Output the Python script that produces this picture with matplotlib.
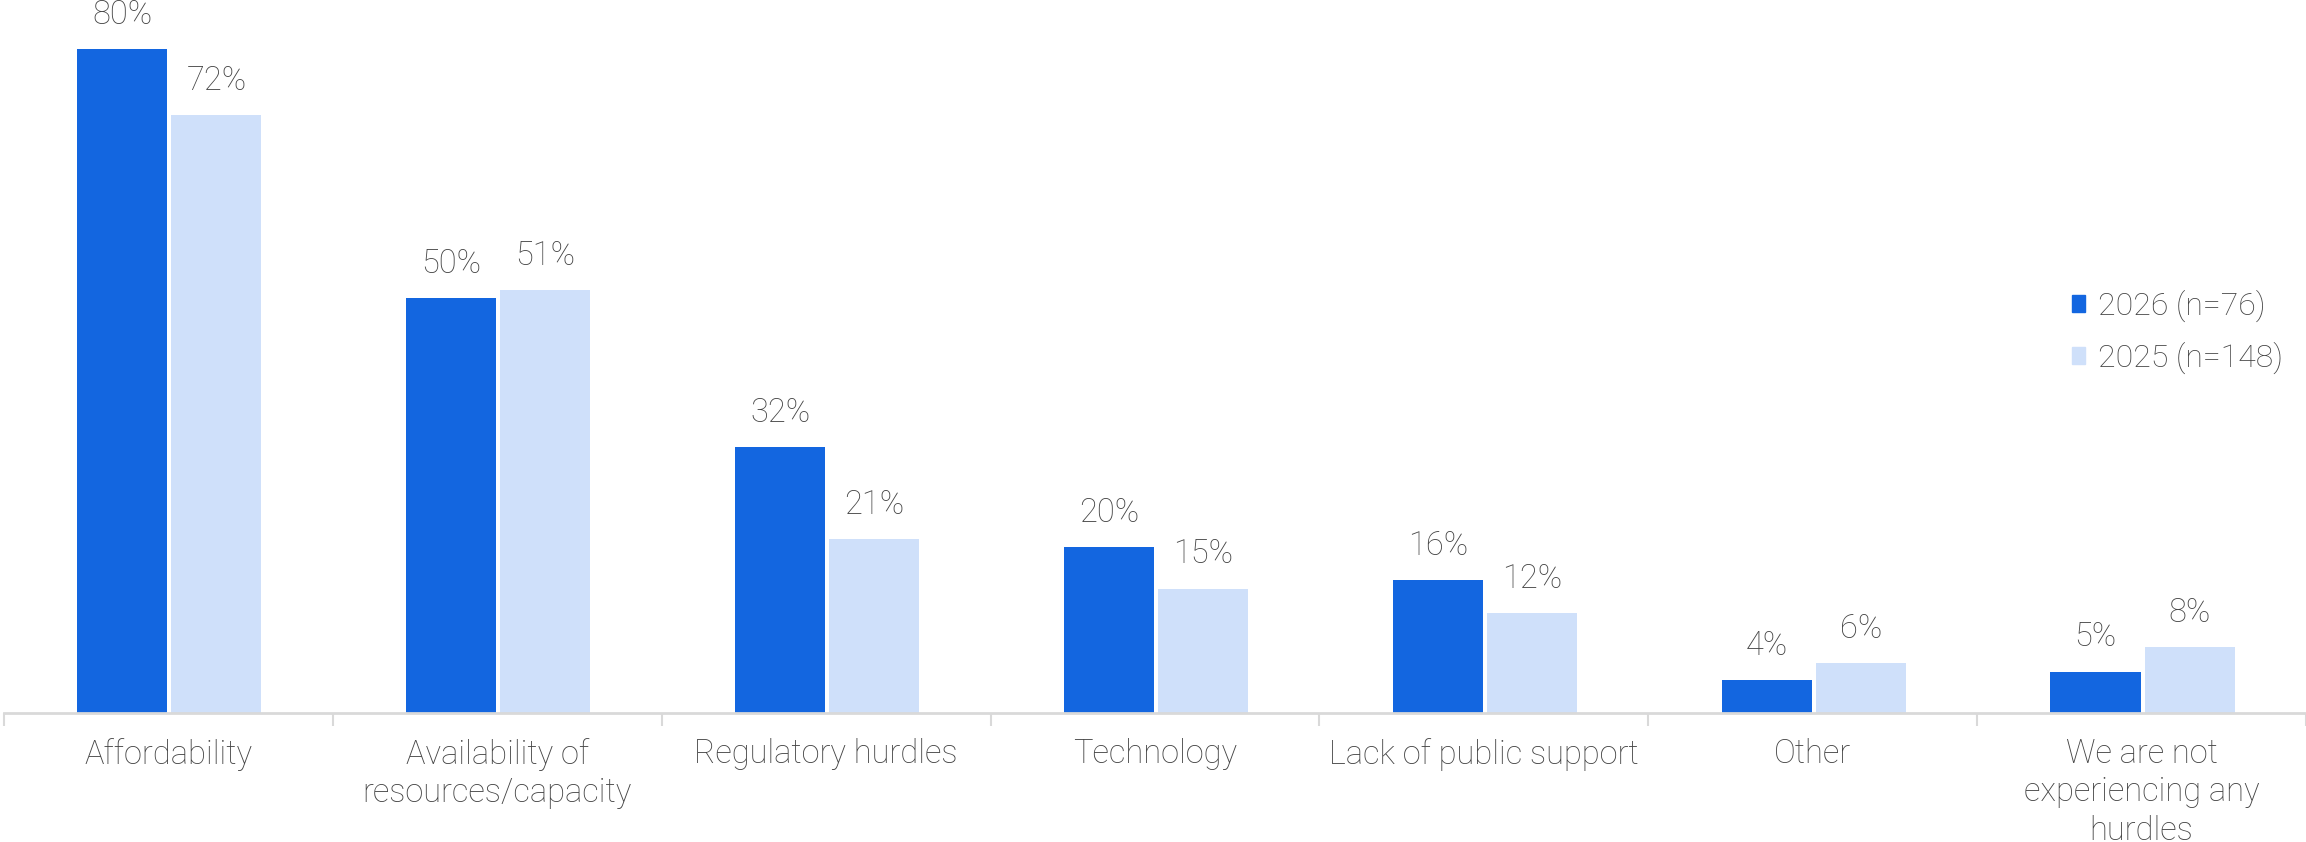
import matplotlib
matplotlib.use("Agg")
import matplotlib.pyplot as plt
import numpy as np
from matplotlib.patches import Patch

# Chart data
categories = [
    "Affordability",
    "Availability of\nresources/capacity",
    "Regulatory hurdles",
    "Technology",
    "Lack of public support",
    "Other",
    "We are not\nexperiencing any\nhurdles",
]
values_2026 = [80, 50, 32, 20, 16, 4, 5]
values_2025 = [72, 51, 21, 15, 12, 6, 8]
series_labels = ["2026 (n=76)", "2025 (n=148)"]

DARK = "#1366E0"
LIGHT = "#CFE0FA"
TEXT = "#444444"
AXIS = "#D9D9D9"

plt.rcParams["font.family"] = ["Roboto", "DejaVu Sans"]
plt.rcParams["font.weight"] = "light"

W, H = 2306, 842
fig = plt.figure(figsize=(W / 100, H / 100), dpi=100)
ax = fig.add_axes([4 / W, 129 / H, 1 - 4 / W, 713 / H])

x = np.arange(len(categories))
bw = 0.274
gap = 0.012
b1 = ax.bar(x - bw / 2 - gap / 2 + 0.003, values_2026, bw, color=DARK)
b2 = ax.bar(x + bw / 2 + gap / 2 + 0.003, values_2025, bw, color=LIGHT)

for bars, vals in ((b1, values_2026), (b2, values_2025)):
    for rect, v in zip(bars, vals):
        ax.annotate(f"{v}%", (rect.get_x() + rect.get_width() / 2, v),
                    xytext=(0, 13), textcoords="offset points",
                    ha="center", va="bottom", fontsize=23.5, color=TEXT,
                    fontweight="light")

ax.set_xlim(-0.5, len(categories) - 0.5)
ax.set_ylim(0, 713 / 8.3)

for s in ("top", "right", "left"):
    ax.spines[s].set_visible(False)
ax.spines["bottom"].set_color(AXIS)
ax.spines["bottom"].set_linewidth(2)
ax.set_yticks([])

ax.set_xticks(x)
ax.set_xticklabels(categories, fontsize=23.5, color=TEXT, linespacing=1.25,
                   fontweight="light", va="top")
ax.tick_params(axis="x", which="major", length=0, pad=18)
ax.set_xticks(np.arange(-0.5, len(categories), 1.0), minor=True)
ax.tick_params(axis="x", which="minor", length=9, width=1.5, color=AXIS)

handles = [Patch(color=DARK), Patch(color=LIGHT)]
fig.legend(handles, series_labels, loc="upper left",
           bbox_to_anchor=(2056 / W, 1 - 274 / H), frameon=False,
           handlelength=0.42, handleheight=0.42,
           handletextpad=0.38, labelspacing=0.62, borderpad=0,
           labelcolor=TEXT, prop={"weight": "light", "size": 23})

fig.savefig("out.png", dpi=100)
